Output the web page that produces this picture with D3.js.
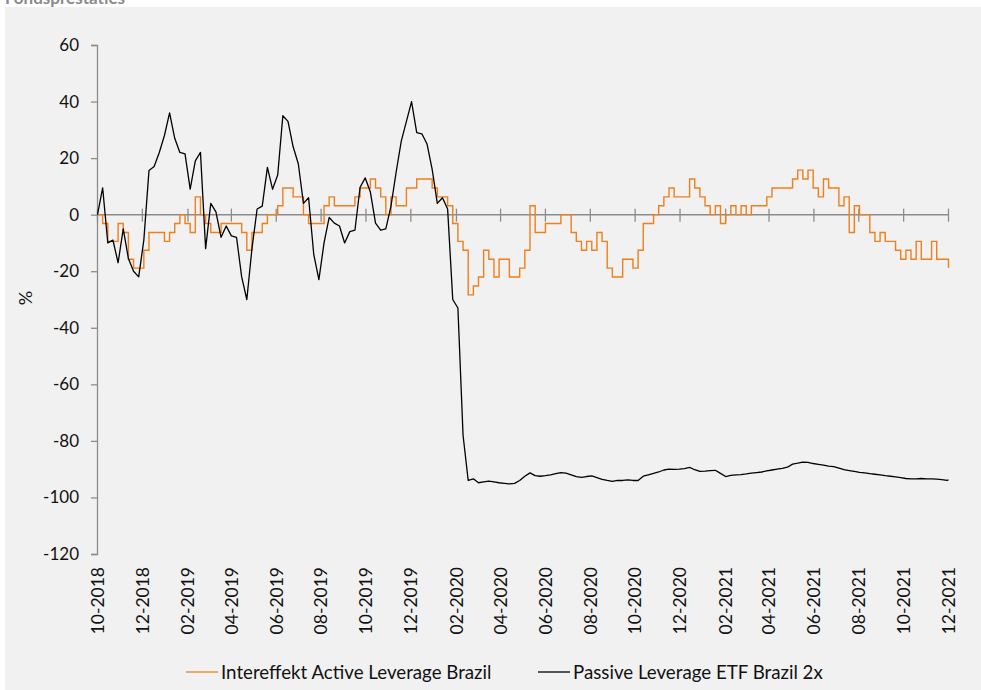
<!DOCTYPE html>
<html>
<head>
<meta charset="utf-8">
<script src="https://cdn.jsdelivr.net/npm/d3@7"></script>
<style>
body { margin: 0; background: #fff; }
svg { display: block; font-family: Lato, "Noto Sans", sans-serif; }
</style>
</head>
<body>
<script>
// weekly readings, first date + final date
var startDate = "2018-10-01";
var endDate = "2021-12-01";

var seriesNames = ["Intereffekt Active Leverage Brazil", "Passive Leverage ETF Brazil 2x"];
var seriesColors = ["#ef7f1a", "#000000"];

var tickMonths = ["2018-10", "2018-12", "2019-02", "2019-04", "2019-06", "2019-08", "2019-10", "2019-12",
	"2020-02", "2020-04", "2020-06", "2020-08", "2020-10", "2020-12", "2021-02", "2021-04",
	"2021-06", "2021-08", "2021-10", "2021-12"];

var yTicks = [60, 40, 20, 0, -20, -40, -60, -80, -100, -120];

var activeValues = [
	0, -3.15, -9.45, -9.45, -3.15, -6.3, -15.75, -18.9, -18.9, -12.6,
	-6.3, -6.3, -6.3, -9.45, -6.3, -3.15, 0, -3.15, -6.3, 6.3,
	0, -3.15, -6.3, -6.3, -3.15, -3.15, -3.15, -3.15, -6.3, -12.6,
	-6.3, -6.3, -3.15, 0, 0, 3.15, 9.45, 9.45, 6.3, 6.3,
	0, -3.15, -3.15, -3.15, 3.15, 6.3, 3.15, 3.15, 3.15, 3.15,
	6.3, 9.45, 9.45, 12.6, 9.45, 6.3, 0, 6.3, 3.15, 3.15,
	9.45, 9.45, 12.6, 12.6, 12.6, 9.45, 6.3, 6.3, 3.15, -3.15,
	-9.45, -12.6, -28.35, -25.2, -22.05, -12.6, -15.75, -22.05, -15.75, -15.75,
	-22.05, -22.05, -18.9, -12.6, 3.15, -6.3, -6.3, -3.15, -3.15, -3.15,
	0, 0, -6.3, -9.45, -12.6, -9.45, -12.6, -6.3, -9.45, -18.9,
	-22.05, -22.05, -15.75, -15.75, -18.9, -12.6, -3.15, -3.15, 0, 3.15,
	6.3, 9.45, 6.3, 6.3, 6.3, 12.6, 9.45, 6.3, 3.15, 0,
	3.15, -3.15, 0, 3.15, 0, 3.15, 0, 3.15, 3.15, 3.15,
	6.3, 9.45, 9.45, 9.45, 9.45, 12.6, 15.75, 12.6, 15.75, 9.45,
	6.3, 12.6, 9.45, 9.45, 3.15, 6.3, -6.3, 3.15, 0, 0,
	-6.3, -9.45, -6.3, -9.45, -9.45, -12.6, -15.75, -12.6, -15.75, -9.45,
	-15.75, -15.75, -9.45, -15.75, -15.75, -15.75, -18.9
];

var passiveValues = [
	0, 9.5, -10, -9, -17, -5, -15.5, -20, -22, -9,
	15.6, 17, 22, 28, 36, 27, 22, 21.5, 9, 19,
	22, -12, 4, 1, -8, -4, -7.5, -8, -22, -30,
	-12, 2, 3, 16.7, 9, 14, 35, 33, 24, 18,
	4, 6, -14, -23, -10, -1, -3, -4, -10, -6,
	-5.5, 9.7, 13, 8, -3, -5.5, -5, 3, 15, 26,
	33, 40, 29, 28.6, 25, 16, 4, 6, 2, -30,
	-33, -78, -94, -93.4, -94.8, -94.5, -94.2, -94.5, -94.8, -95,
	-95.2, -95, -94, -92.5, -91.3, -92.3, -92.5, -92.3, -92, -91.6,
	-91.2, -91.4, -92, -92.6, -92.9, -92.6, -92.4, -93, -93.6, -94,
	-94.3, -94, -94, -93.8, -94, -94, -92.5, -92, -91.5, -91,
	-90.3, -90, -90.1, -90, -89.8, -89.4, -90.2, -90.8, -90.7, -90.5,
	-90.4, -91.5, -92.6, -92.2, -92, -91.9, -91.7, -91.4, -91.2, -91,
	-90.6, -90.3, -90, -89.7, -89.3, -88.2, -87.9, -87.5, -87.6, -88,
	-88.3, -88.6, -88.9, -89.1, -89.6, -90.2, -90.5, -90.8, -91.1, -91.3,
	-91.6, -91.8, -92, -92.3, -92.5, -92.7, -93, -93.3, -93.4, -93.4,
	-93.3, -93.4, -93.4, -93.5, -93.7, -94, -93.8
];

var W = 981, H = 690;
var parseDay = d3.utcParse("%Y-%m-%d"), parseMonth = d3.utcParse("%Y-%m");

var dates = d3.range(activeValues.length - 1).map(function(i) {
	return d3.utcDay.offset(parseDay(startDate), 7 * i);
});
dates.push(parseDay(endDate));

var svg = d3.select("body").append("svg").attr("width", W).attr("height", H);

// title, mostly cropped off the top like in the source
svg.append("text").attr("x", 5).attr("y", 4)
	.attr("font-size", 17).attr("font-weight", "bold").attr("fill", "#8a8a8a")
	.text("Fondsprestaties");

svg.append("rect").attr("x", 5).attr("y", 7).attr("width", W - 5).attr("height", H - 7).attr("fill", "#f1f1f1");

var x = d3.scaleUtc().domain([parseDay(startDate), parseDay(endDate)]).range([97.5, 948.5]);
var y = d3.scaleLinear().domain([-120, 60]).range([554, 45]);

// y axis
var yAxis = svg.append("g").attr("transform", "translate(97,0)")
	.call(d3.axisLeft(y).tickValues(yTicks).tickSize(6).tickPadding(12).tickFormat(function(d) { return String(d); }));
yAxis.select(".domain").attr("stroke", "#8c8c8c").attr("stroke-width", 1.3);
yAxis.selectAll(".tick line").attr("stroke", "#8c8c8c").attr("stroke-width", 1.3);
yAxis.selectAll("text").attr("font-size", 17).attr("fill", "#111").attr("font-family", "Lato, sans-serif");

// zero line with cross ticks
var zero = svg.append("g");
zero.append("line").attr("x1", 97).attr("x2", 948.5).attr("y1", y(0)).attr("y2", y(0))
	.attr("stroke", "#8c8c8c").attr("stroke-width", 1.5);
zero.selectAll("line.t").data(tickMonths).enter().append("line").attr("class", "t")
	.attr("x1", function(d) { return x(parseMonth(d)); })
	.attr("x2", function(d) { return x(parseMonth(d)); })
	.attr("y1", y(0) - 6).attr("y2", y(0) + 7)
	.attr("stroke", "#8c8c8c").attr("stroke-width", 1.3);

// rotated month labels at the bottom
svg.selectAll("text.xl").data(tickMonths).enter().append("text").attr("class", "xl")
	.attr("transform", function(d) { return "translate(" + x(parseMonth(d)) + ",567) rotate(-90)"; })
	.attr("text-anchor", "end").attr("dy", "0.36em")
	.attr("font-size", 17.5).attr("fill", "#111")
	.text(function(d) { return d3.utcFormat("%m-%Y")(parseMonth(d)); });

svg.append("text").attr("transform", "translate(26,298) rotate(-90)")
	.attr("text-anchor", "middle").attr("dy", "0.36em").attr("font-size", 18).attr("fill", "#111")
	.text("%");

var lineActive = d3.line().curve(d3.curveStepAfter)
	.x(function(d, i) { return x(dates[i]); }).y(function(d) { return y(d); });
var linePassive = d3.line()
	.x(function(d, i) { return x(dates[i]); }).y(function(d) { return y(d); });

svg.append("path").datum(activeValues).attr("d", lineActive)
	.attr("fill", "none").attr("stroke", seriesColors[0]).attr("stroke-width", 1.4);
svg.append("path").datum(passiveValues).attr("d", linePassive)
	.attr("fill", "none").attr("stroke", seriesColors[1]).attr("stroke-width", 1.3)
	.attr("stroke-linejoin", "round");

// legend
var legendX = [186, 538];
var lg = svg.selectAll("g.lg").data(seriesNames).enter().append("g").attr("class", "lg")
	.attr("transform", function(d, i) { return "translate(" + legendX[i] + ",672)"; });
lg.append("line").attr("x1", 0).attr("x2", 32).attr("y1", 0).attr("y2", 0)
	.attr("stroke", function(d, i) { return seriesColors[i]; }).attr("stroke-width", 1.3);
lg.append("text").attr("x", 35).attr("dy", "0.36em").attr("font-size", 18.7).attr("fill", "#111")
	.text(function(d) { return d; });
</script>
</body>
</html>
